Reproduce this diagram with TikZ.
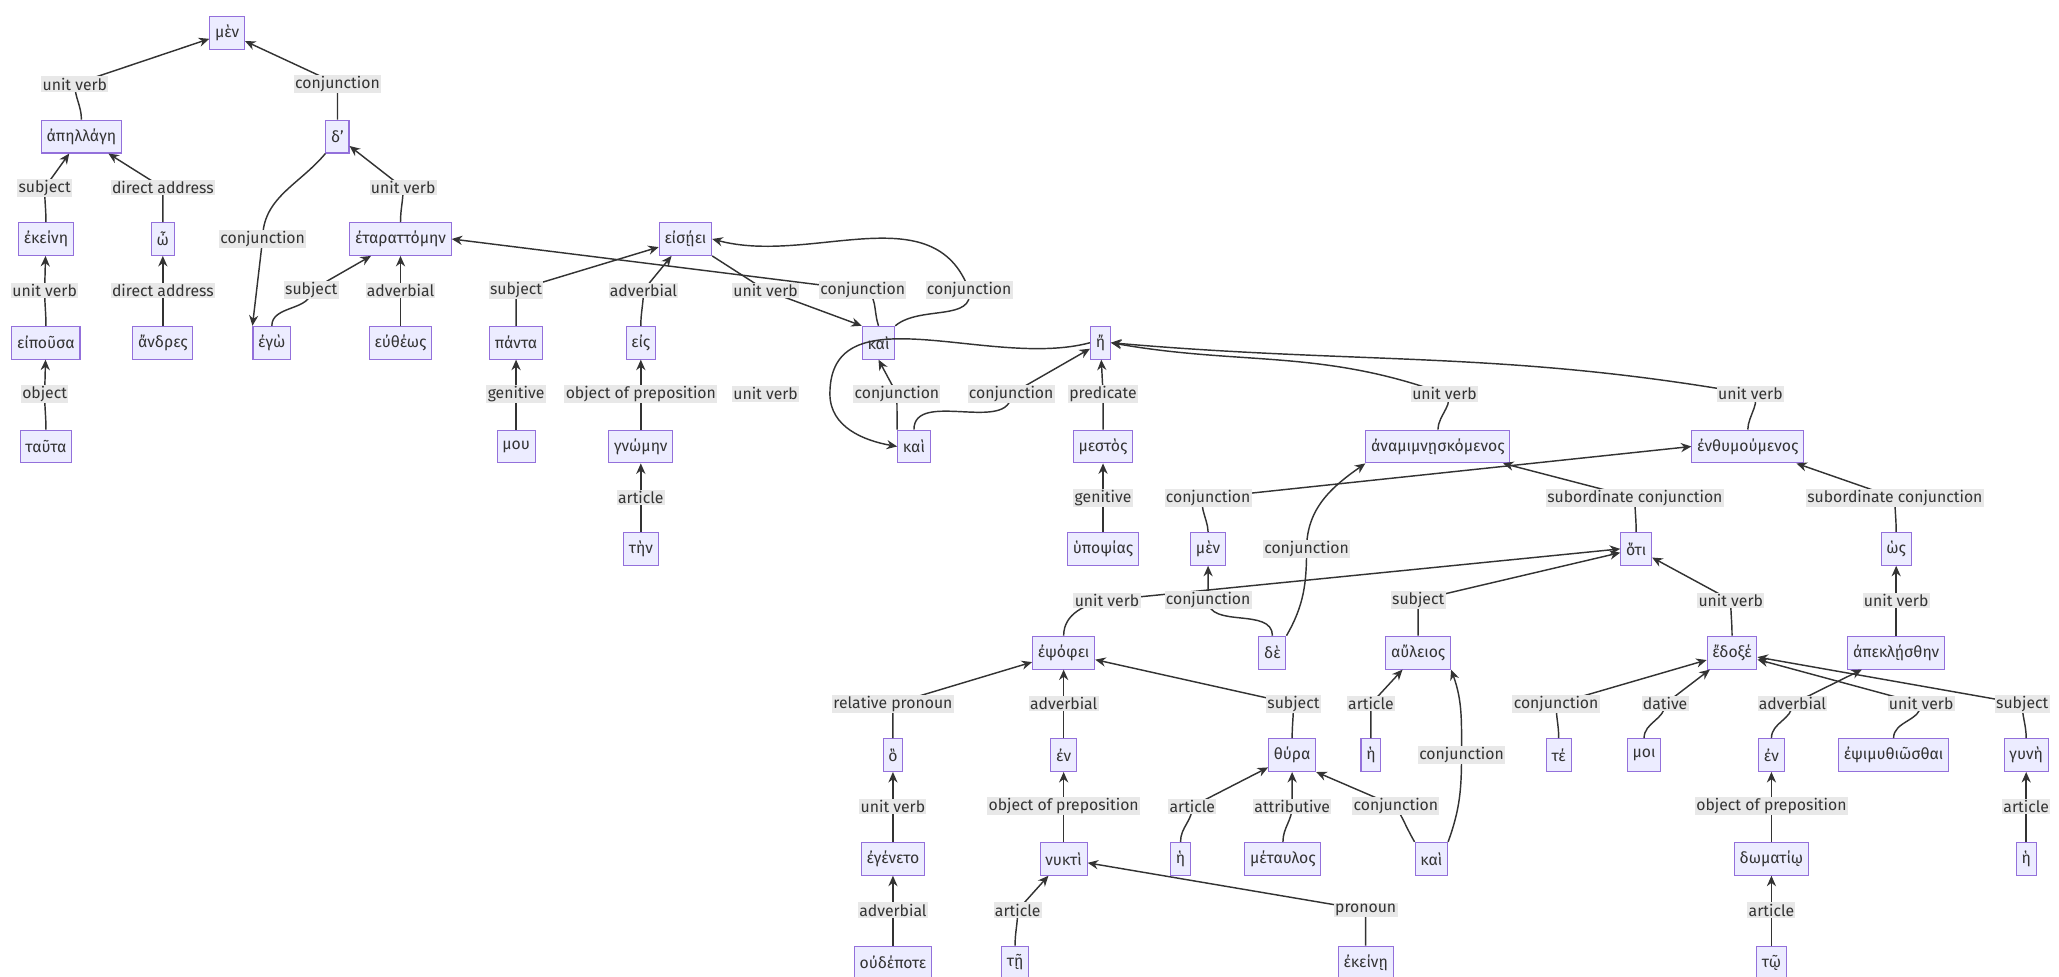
\documentclass[tikz,border=0pt]{standalone}
\usepackage{fontspec}
\setmainfont{Fira Sans}
\usetikzlibrary{arrows.meta}
\definecolor{boxfill}{HTML}{ECECFF}
\definecolor{boxline}{HTML}{9370DB}
\definecolor{ink}{HTML}{333333}
\definecolor{labfill}{HTML}{E8E8E8}
\tikzset{
  word/.style={draw=boxline, fill=boxfill, line width=0.8pt, inner sep=4pt,
    minimum height=25pt, text=ink, font=\fontsize{12}{14}\selectfont},
  lab/.style={fill=labfill, inner sep=1pt, text=ink, font=\fontsize{12}{14}\selectfont},
  link/.style={draw=ink, line width=1.1pt, -{Stealth[length=8pt,width=7pt]}}
}
% child, label position, label, parent
\newcommand{\rel}[4]{\draw[link] (#1) to[out=90,in=-90] (#2) node[lab]{#3} to (#4);}
\begin{document}
\begin{tikzpicture}[x=1pt,y=-1pt]
        \useasboundingbox (0,0) rectangle (1568,744);
        % Words
        \node[word] (men) at (173,25) {μὲν};
        \node[word] (apellage) at (62,104) {ἀπηλλάγη};
        \node[word] (de1) at (257,104) {δ'};
        \node[word] (ekeine) at (35,182) {ἐκείνη};
        \node[word] (o) at (124,182) {ὦ};
        \node[word] (etarattomen) at (305,182) {ἐταραττόμην};
        \node[word] (eisei) at (522,182) {εἰσῄει};
        \node[word] (eipousa) at (35,261) {εἰποῦσα};
        \node[word] (andres) at (124,261) {ἄνδρες};
        \node[word] (ego) at (207,261) {ἐγὼ};
        \node[word] (eutheos) at (305,261) {εὐθέως};
        \node[word] (panta) at (393,261) {πάντα};
        \node[word] (eis) at (488,261) {εἰς};
        \node[word] (kai1) at (669,261) {καὶ};
        \node[word] (e) at (838,261) {ἤ};
        \node[word] (tauta) at (35,340) {ταῦτα};
        \node[word] (mou) at (393,340) {μου};
        \node[word] (gnomen) at (488,340) {γνώμην};
        \node[word] (kai2) at (696,340) {καὶ};
        \node[word] (mestos) at (840,340) {μεστὸς};
        \node[word] (anamimn) at (1095,340) {ἀναμιμνῃσκόμενος};
        \node[word] (enthym) at (1331,340) {ἐνθυμούμενος};
        \node[word] (ten) at (488,418) {τὴν};
        \node[word] (hypopsias) at (840,418) {ὑποψίας};
        \node[word] (men2) at (920,418) {μὲν};
        \node[word] (hoti) at (1246,418) {ὅτι};
        \node[word] (hos) at (1444,418) {ὡς};
        \node[word] (epsophei) at (810,497) {ἐψόφει};
        \node[word] (de2) at (969,497) {δὲ};
        \node[word] (auleios) at (1080,497) {αὔλειος};
        \node[word] (edoxe) at (1319,497) {ἔδοξέ};
        \node[word] (apekl) at (1444,497) {ἀπεκλῄσθην};
        \node[word] (ho) at (680,575) {ὃ};
        \node[word] (en1) at (810,575) {ἐν};
        \node[word] (thyra) at (984,575) {θύρα};
        \node[word] (he1) at (1044,575) {ἡ};
        \node[word] (te) at (1187,575) {τέ};
        \node[word] (moi) at (1252,575) {μοι};
        \node[word] (en2) at (1349,575) {ἐν};
        \node[word] (epsim) at (1442,575) {ἐψιμυθιῶσθαι};
        \node[word] (gyne) at (1543,575) {γυνὴ};
        \node[word] (egeneto) at (680,654) {ἐγένετο};
        \node[word] (nykti) at (810,654) {νυκτὶ};
        \node[word] (he2) at (899,654) {ἡ};
        \node[word] (metaulos) at (977,654) {μέταυλος};
        \node[word] (kai3) at (1090,654) {καὶ};
        \node[word] (domatio) at (1349,654) {δωματίῳ};
        \node[word] (he3) at (1543,654) {ἡ};
        \node[word] (oudepote) at (680,733) {οὐδέποτε};
        \node[word] (tei) at (773,733) {τῇ};
        \node[word] (ekeinei) at (1040,733) {ἐκείνῃ};
        \node[word] (toi) at (1349,733) {τῷ};

        % Relations
        \rel{apellage}{57,64}{unit verb}{men}
        \rel{de1}{257,64}{conjunction}{men}
        \rel{ekeine}{34,143}{subject}{apellage}
        \rel{o}{124,143}{direct address}{apellage}
        \rel{eipousa}{34,221}{unit verb}{ekeine}
        \rel{andres}{124,221}{direct address}{o}
        \rel{tauta}{34,300}{object}{eipousa}
        \draw[link] (de1.south west) to[out=-130,in=90] (200,182) node[lab]{conjunction} to (ego.north west);
        \rel{etarattomen}{307,143}{unit verb}{de1}
        \rel{ego}{237,221}{subject}{etarattomen}
        \rel{eutheos}{305,221}{adverbial}{etarattomen}
        \rel{panta}{393,221}{subject}{eisei}
        \rel{eis}{490,221}{adverbial}{eisei}
        \rel{mou}{393,300}{genitive}{panta}
        \rel{gnomen}{488,300}{object of preposition}{eis}
        \rel{ten}{488,379}{article}{gnomen}
        \draw[link] (eisei.south east) -- (583,221) node[lab]{unit verb} -- (kai1.north west);
        \draw[link] (kai1.north) to[out=110,in=-10] (657,221) node[lab]{conjunction} to (etarattomen.east);
        \draw[link] (kai1.north east) to[out=40,in=-80] (738,221) node[lab]{conjunction} to[out=110,in=-15] (eisei.east);
        \node[lab] (orphan) at (583,300) {unit verb};
        \draw[link] (kai2.north west) -- (683,300) node[lab]{conjunction} -- (kai1.south);
        \draw[link] (e.west) to[out=195,in=90] (632,300) to[out=-90,in=170] (kai2.west);
        \rel{kai2}{770,300}{conjunction}{e}
        \rel{mestos}{840,300}{predicate}{e}
        \rel{hypopsias}{840,379}{genitive}{mestos}
        \draw[link] (anamimn.north) to[out=90,in=-30] (1100,300) node[lab]{unit verb} to[out=160,in=-10] (e.east);
        \draw[link] (enthym.north) to[out=90,in=-20] (1333,300) node[lab]{unit verb} to[out=170,in=-5] (e.east);
        \draw[link] (men2.north) to[out=90,in=190] (920,379) node[lab]{conjunction} to (enthym.west);
        \draw[link] (de2.north east) to[out=60,in=-90] (995,418) node[lab]{conjunction} to[out=90,in=-145] (anamimn.south west);
        \rel{hoti}{1245,379}{subordinate conjunction}{anamimn}
        \rel{hos}{1443,379}{subordinate conjunction}{enthym}
        \draw[link] (epsophei.north) to[out=90,in=190] (843,457) node[lab]{unit verb} to (hoti.west);
        \rel{de2}{920,457}{conjunction}{men2}
        \rel{auleios}{1080,457}{subject}{hoti}
        \rel{edoxe}{1318,457}{unit verb}{hoti}
        \rel{apekl}{1444,457}{unit verb}{hos}
        \rel{ho}{680,536}{relative pronoun}{epsophei}
        \rel{en1}{810,536}{adverbial}{epsophei}
        \rel{thyra}{985,536}{subject}{epsophei}
        \rel{he1}{1044,536}{article}{auleios}
        \draw[link] (kai3.north east) to[out=70,in=-90] (1113,575) node[lab]{conjunction} to[out=90,in=-70] (auleios.south east);
        \rel{te}{1185,536}{conjunction}{edoxe}
        \rel{moi}{1268,536}{dative}{edoxe}
        \rel{en2}{1365,536}{adverbial}{apekl}
        \rel{epsim}{1463,536}{unit verb}{edoxe}
        \rel{gyne}{1540,536}{subject}{edoxe}
        \rel{egeneto}{680,614}{unit verb}{ho}
        \rel{nykti}{810,614}{object of preposition}{en1}
        \rel{he2}{908,614}{article}{thyra}
        \rel{metaulos}{984,614}{attributive}{thyra}
        \draw[link] (kai3.north west) to[out=120,in=-60] (1063,614) node[lab]{conjunction} to (thyra.south east);
        \rel{domatio}{1349,614}{object of preposition}{en2}
        \rel{he3}{1543,614}{article}{gyne}
        \rel{oudepote}{680,693}{adverbial}{egeneto}
        \rel{tei}{775,693}{article}{nykti}
        \rel{ekeinei}{1040,693}{pronoun}{nykti}
        \rel{toi}{1349,693}{article}{domatio}
    \end{tikzpicture}
\end{document}
